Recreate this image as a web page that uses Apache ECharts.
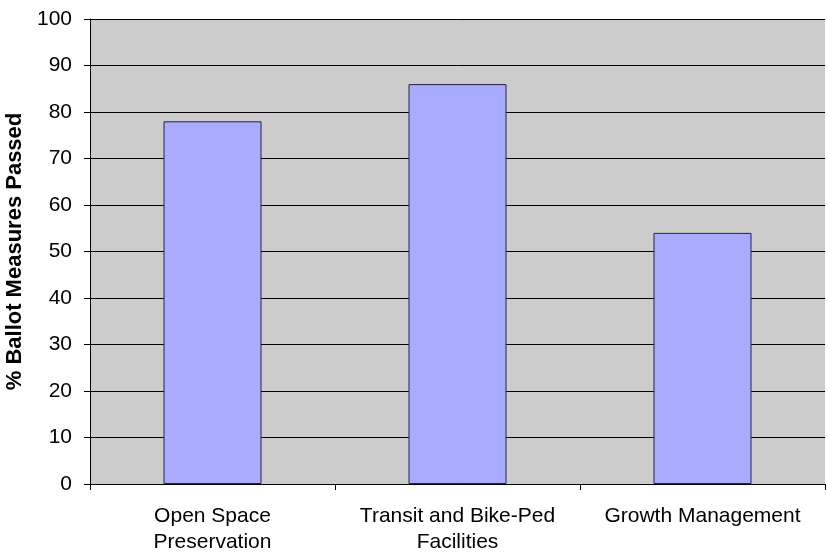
<!DOCTYPE html>
<html>
<head>
<meta charset="utf-8">
<script src="https://cdn.jsdelivr.net/npm/echarts@6/dist/echarts.min.js"></script>
<style>
html,body{margin:0;padding:0;background:#fff;}
#chart{width:827px;height:555px;}
</style>
</head>
<body>
<div id="chart"></div>
<script>
const categories = ['Open Space\nPreservation', 'Transit and Bike-Ped\nFacilities', 'Growth Management'];
const values = [78, 86, 54];
const yAxisName = '% Ballot Measures Passed';

const chart = echarts.init(document.getElementById('chart'));
chart.setOption({
  animation: false,
  backgroundColor: '#ffffff',
  textStyle: { fontFamily: 'Liberation Sans, Arial, sans-serif' },
  grid: {
    left: 90, right: 2, top: 19, bottom: 71,
    containLabel: false, outerBoundsMode: 'none',
    show: true, backgroundColor: '#cccccc', borderWidth: 0
  },
  xAxis: {
    type: 'category',
    data: categories,
    axisLine: { show: true, lineStyle: { color: '#000', width: 1 } },
    axisTick: { show: true, length: 6, alignWithLabel: false, lineStyle: { color: '#000' } },
    axisLabel: { color: '#000', fontSize: 21, margin: 19, lineHeight: 26, interval: 0 },
    splitLine: { show: false }
  },
  yAxis: {
    type: 'value',
    min: 0, max: 100, interval: 10,
    name: yAxisName,
    nameLocation: 'middle',
    nameGap: 60,
    nameTextStyle: { color: '#000', fontSize: 22, fontWeight: 'bold' },
    axisLine: { show: true, lineStyle: { color: '#000', width: 1 } },
    axisTick: { show: true, length: 6, lineStyle: { color: '#000' } },
    axisLabel: { color: '#000', fontSize: 21, margin: 18 },
    splitLine: { show: true, lineStyle: { color: '#000', width: 1 } }
  },
  series: [{
    type: 'bar',
    data: values,
    barWidth: '40%',
    itemStyle: { color: '#aaaaff', borderColor: '#222244', borderWidth: 1 }
  }]
});
</script>
</body>
</html>
